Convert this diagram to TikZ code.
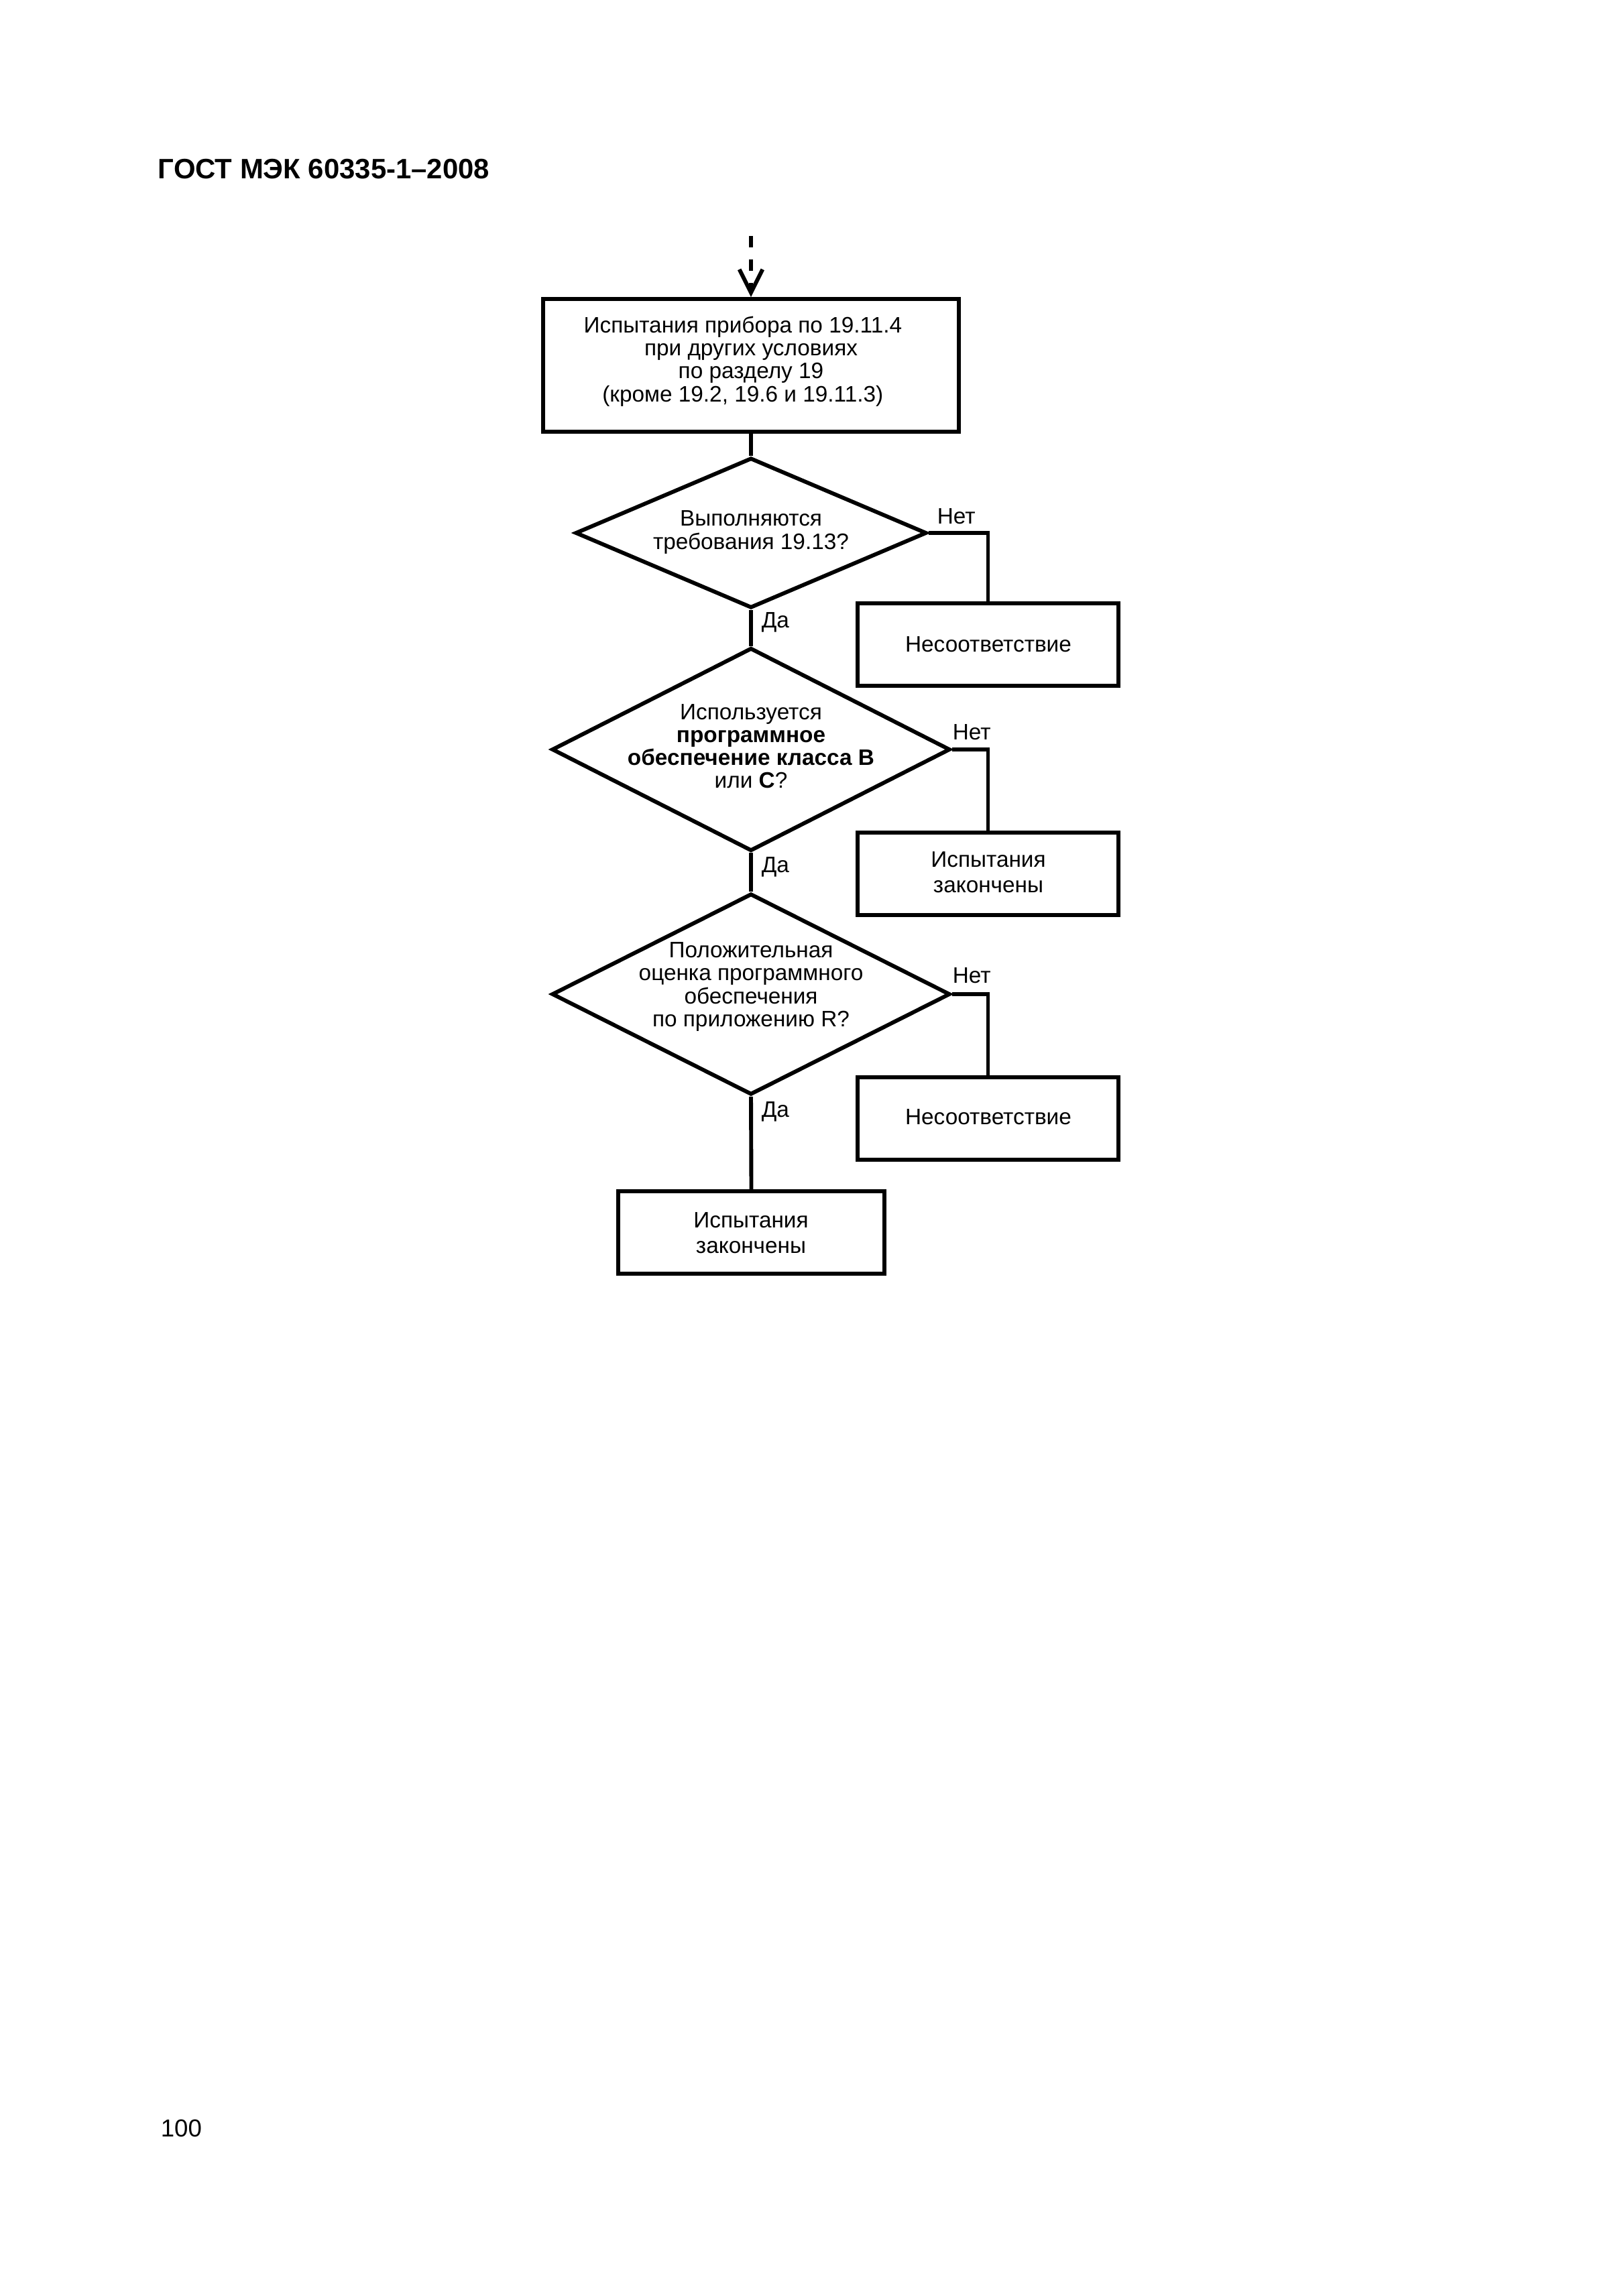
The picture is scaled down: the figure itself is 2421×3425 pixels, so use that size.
\documentclass[tikz,border=0pt]{standalone}
\usepackage{fontspec}
\setmainfont{Liberation Sans}
\usetikzlibrary{shapes.geometric,arrows.meta}
\newdimen\px \px=0.24588pt
\begin{document}
\begin{tikzpicture}[x=0.24588pt,y=-0.24588pt,
  conn/.style={draw, line width=1.45pt},
  boxshape/.style={draw, line width=1.45pt, rectangle, inner sep=0pt},
  decshape/.style={draw, line width=1.45pt, diamond, inner sep=0pt},
  txt/.style={align=center, inner sep=0pt, font=\fontsize{8.2}{8.4}\selectfont},
  txtwide/.style={align=center, inner sep=0pt, font=\fontsize{8.2}{9.2}\selectfont},
  lbl/.style={anchor=base west, inner sep=0pt, font=\fontsize{8.2}{8.4}\selectfont}]
\useasboundingbox (0,0) rectangle (2421,3425);

% header and page number
\node[anchor=base west, inner sep=0pt, font=\fontsize{10.3}{12}\selectfont\bfseries] (hdr) at (235,267) {ГОСТ МЭК 60335-1–2008};
\node[anchor=base west, inner sep=0pt, font=\fontsize{9}{11}\selectfont] (pg) at (239,3187) {100};

% shapes
\node[boxshape, minimum width=620*\px, minimum height=198*\px] (b1) at (1120,545) {};
\node[decshape, minimum width=524*\px, minimum height=224*\px] (d1) at (1120,795) {};
\node[boxshape, minimum width=389*\px, minimum height=123*\px] (n1) at (1473.5,961.5) {};
\node[decshape, minimum width=594*\px, minimum height=303*\px] (d2) at (1120,1118) {};
\node[boxshape, minimum width=389*\px, minimum height=123*\px] (b2) at (1473.5,1303.5) {};
\node[decshape, minimum width=594*\px, minimum height=300*\px] (d3) at (1120,1483) {};
\node[boxshape, minimum width=389*\px, minimum height=123*\px] (n3) at (1473.5,1668.5) {};
\node[boxshape, minimum width=397*\px, minimum height=123*\px] (b4) at (1120.5,1838.5) {};

% texts
\node[txt] (t1) at (1120,539) {Испытания прибора по 19.11.4\hspace*{6pt}\\при других условиях\\по разделу 19\\(кроме 19.2, 19.6 и 19.11.3)\hspace*{6pt}};
\node[txt] (t2) at (1120,794) {Выполняются\\требования 19.13?};
\node[txt] (t3) at (1120,1113) {Используется\\\textbf{программное}\\\textbf{обеспечение класса В}\\или \textbf{С}?};
\node[txt] (t4) at (1120,1472) {Положительная\\оценка программного\\обеспечения\\по приложению R?};
\node[txt] (t5) at (1474,961) {Несоответствие};
\node[txtwide] (t6) at (1474,1301) {Испытания\\закончены};
\node[txt] (t7) at (1474,1666) {Несоответствие};
\node[txtwide] (t8) at (1120,1839) {Испытания\\закончены};

% labels
\node[lbl] (no1) at (1397,782) {Нет};
\node[lbl] (no2) at (1420,1103) {Нет};
\node[lbl] (no3) at (1420,1466) {Нет};
\node[lbl] (yes1) at (1135,936) {Да};
\node[lbl] (yes2) at (1135,1301) {Да};
\node[lbl] (yes3) at (1135,1666) {Да};

% connectors
\coordinate (start) at (1120,352);
\draw[conn, dash pattern=on 4.2pt off 4.4pt, -{Straight Barb[length=8.5pt,width=8.5pt]}] (start) -- (b1.north);
\draw[conn] (b1.south) -- (d1.north);
\draw[conn] (d1.south) -- (d2.north);
\draw[conn] (d1.east) -| (n1.north);
\draw[conn] (d2.south) -- (d3.north);
\draw[conn] (d2.east) -| (b2.north);
\draw[conn] (d3.south) -- (b4.north);
\draw[conn] (d3.east) -| (n3.north);
\end{tikzpicture}
\end{document}
